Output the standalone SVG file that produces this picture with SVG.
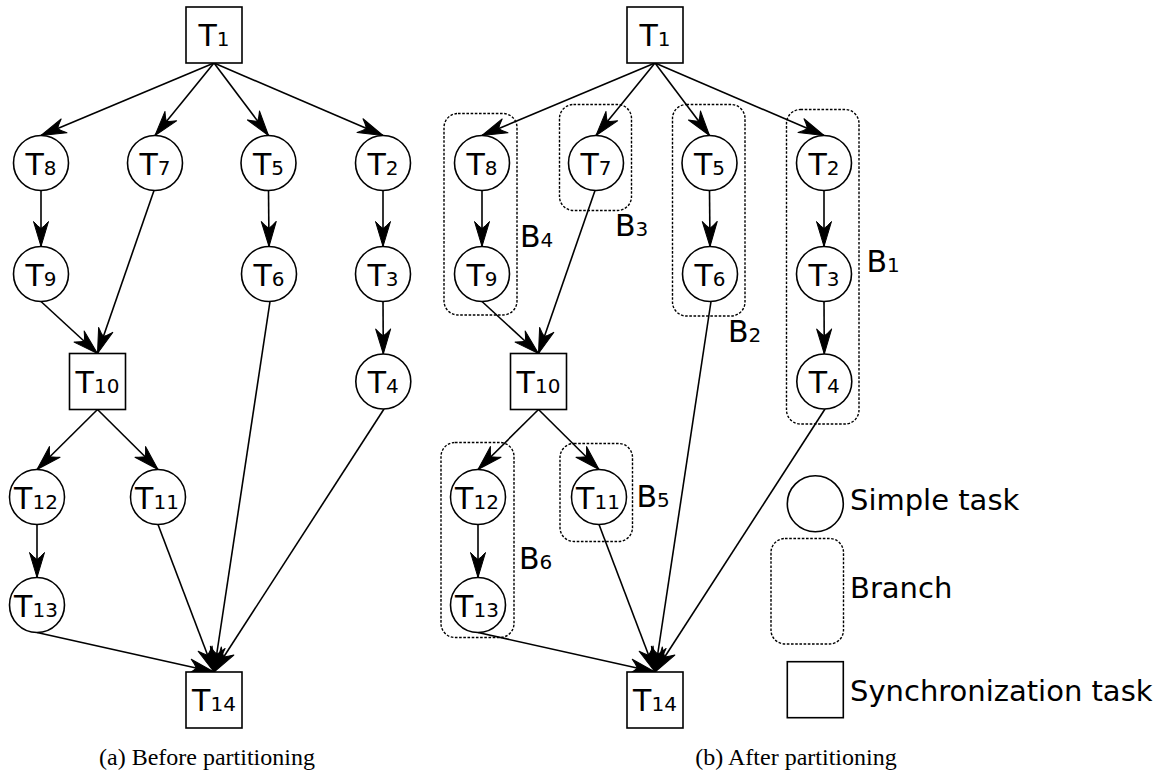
<svg xmlns="http://www.w3.org/2000/svg" width="1166" height="774" viewBox="0 0 1166 774">
<style>
  .sq { fill: #fff; stroke: #000; stroke-width: 1.6; }
  .ci { fill: #fff; stroke: #000; stroke-width: 1.6; }
  .br { fill: none; stroke: #000; stroke-width: 1.4; stroke-dasharray: 2.6 1.6; }
  .lbl { font-family: "DejaVu Sans", "Liberation Sans", sans-serif; font-size: 30px; fill: #000; text-anchor: middle; }
  .blbl { font-family: "DejaVu Sans", "Liberation Sans", sans-serif; font-size: 30px; fill: #000; }
  .sub { font-size: 20px; }
  .leg { font-family: "DejaVu Sans", "Liberation Sans", sans-serif; font-size: 29px; fill: #000; }
  .cap { font-family: "Liberation Serif", "Times New Roman", serif; font-size: 24px; fill: #000; text-anchor: middle; }
  .edge { fill: none; stroke: #000; stroke-width: 1.6; marker-end: url(#arr); }
</style>
<defs>
  <marker id="arr" markerUnits="userSpaceOnUse" viewBox="0 0 26 18" markerWidth="26" markerHeight="18" refX="26" refY="9" orient="auto">
    <path d="M26,9 L1,1.5 Q6,6 8,9 Q6,12 1,16.5 Z" fill="#000" stroke="#000" stroke-width="1" stroke-linejoin="round"/>
  </marker>
</defs>
<rect width="1166" height="774" fill="#fff"/>

<!-- Panel (a) connectors -->
<g id="connectors-a">
  <path class="edge" d="M214,63 L41,135.5"/>
  <path class="edge" d="M214,63 L155,135.5"/>
  <path class="edge" d="M214,63 L268.5,135.5"/>
  <path class="edge" d="M214,63 L383,135.5"/>
  <path class="edge" d="M41,190.5 L41,246.5"/>
  <path class="edge" d="M268.5,190.5 L269,246.5"/>
  <path class="edge" d="M383,190.5 L383,246.5"/>
  <path class="edge" d="M41,301.5 L97.5,353.5"/>
  <path class="edge" d="M154,190.5 L97.5,353.5"/>
  <path class="edge" d="M383,301.5 L383.3,354"/>
  <path class="edge" d="M97.5,409.5 L37,469.5"/>
  <path class="edge" d="M97.5,409.5 L158,469.5"/>
  <path class="edge" d="M37,524.5 L37,577.5"/>
  <path class="edge" d="M37,632.5 L214,672"/>
  <path class="edge" d="M158,524.5 L214,672"/>
  <path class="edge" d="M270,301.5 L214,672"/>
  <path class="edge" d="M384,409 L214,672"/>
</g>

<!-- Panel (a) nodes -->
<g id="a-T1"><rect class="sq" x="186" y="7" width="56" height="56"/><text class="lbl" x="214" y="46">T<tspan class="sub">1</tspan></text></g>
<g id="a-T8"><circle class="ci" cx="41" cy="163" r="27.5"/><text class="lbl" x="41" y="174.5">T<tspan class="sub">8</tspan></text></g>
<g id="a-T7"><circle class="ci" cx="155" cy="163" r="27.5"/><text class="lbl" x="155" y="174.5">T<tspan class="sub">7</tspan></text></g>
<g id="a-T5"><circle class="ci" cx="268.5" cy="163" r="27.5"/><text class="lbl" x="268.5" y="174.5">T<tspan class="sub">5</tspan></text></g>
<g id="a-T2"><circle class="ci" cx="383" cy="163" r="27.5"/><text class="lbl" x="383" y="174.5">T<tspan class="sub">2</tspan></text></g>
<g id="a-T9"><circle class="ci" cx="41" cy="274" r="27.5"/><text class="lbl" x="41" y="285.5">T<tspan class="sub">9</tspan></text></g>
<g id="a-T6"><circle class="ci" cx="269" cy="274" r="27.5"/><text class="lbl" x="269" y="285.5">T<tspan class="sub">6</tspan></text></g>
<g id="a-T3"><circle class="ci" cx="383" cy="274" r="27.5"/><text class="lbl" x="383" y="285.5">T<tspan class="sub">3</tspan></text></g>
<g id="a-T10"><rect class="sq" x="69.5" y="353.5" width="56" height="56"/><text class="lbl" x="97.5" y="393">T<tspan class="sub">10</tspan></text></g>
<g id="a-T4"><circle class="ci" cx="383.3" cy="381.5" r="27.5"/><text class="lbl" x="383.3" y="393">T<tspan class="sub">4</tspan></text></g>
<g id="a-T12"><circle class="ci" cx="37" cy="497" r="27.5"/><text class="lbl" x="36" y="508.5">T<tspan class="sub">12</tspan></text></g>
<g id="a-T11"><circle class="ci" cx="158" cy="497" r="27.5"/><text class="lbl" x="157" y="508.5">T<tspan class="sub">11</tspan></text></g>
<g id="a-T13"><circle class="ci" cx="37" cy="605" r="27.5"/><text class="lbl" x="36" y="616.5">T<tspan class="sub">13</tspan></text></g>
<g id="a-T14"><rect class="sq" x="186" y="672" width="56" height="56"/><text class="lbl" x="214" y="711">T<tspan class="sub">14</tspan></text></g>

<!-- Panel (b) branches -->
<g id="branch-B4"><rect class="br" x="444" y="113.5" width="73" height="201.5" rx="14"/><text class="blbl" x="520" y="246.5">B<tspan class="sub">4</tspan></text></g>
<g id="branch-B3"><rect class="br" x="559.5" y="104.5" width="72" height="106" rx="14"/><text class="blbl" x="615" y="236">B<tspan class="sub">3</tspan></text></g>
<g id="branch-B2"><rect class="br" x="672.5" y="104.5" width="72.5" height="211.5" rx="14"/><text class="blbl" x="728" y="341.5">B<tspan class="sub">2</tspan></text></g>
<g id="branch-B1"><rect class="br" x="786.5" y="109.5" width="72.5" height="314.5" rx="14"/><text class="blbl" x="866.5" y="271.5">B<tspan class="sub">1</tspan></text></g>
<g id="branch-B6"><rect class="br" x="441" y="442.5" width="73" height="195" rx="14"/><text class="blbl" x="519" y="569">B<tspan class="sub">6</tspan></text></g>
<g id="branch-B5"><rect class="br" x="560" y="443.5" width="72.5" height="98" rx="14"/><text class="blbl" x="636.5" y="506.5">B<tspan class="sub">5</tspan></text></g>

<!-- Panel (b) connectors -->
<g id="connectors-b" transform="translate(441,0)">
  <path class="edge" d="M214,63 L41,135.5"/>
  <path class="edge" d="M214,63 L155,135.5"/>
  <path class="edge" d="M214,63 L268.5,135.5"/>
  <path class="edge" d="M214,63 L383,135.5"/>
  <path class="edge" d="M41,190.5 L41,246.5"/>
  <path class="edge" d="M268.5,190.5 L269,246.5"/>
  <path class="edge" d="M383,190.5 L383,246.5"/>
  <path class="edge" d="M41,301.5 L97.5,353.5"/>
  <path class="edge" d="M154,190.5 L97.5,353.5"/>
  <path class="edge" d="M383,301.5 L383.3,354"/>
  <path class="edge" d="M97.5,409.5 L37,469.5"/>
  <path class="edge" d="M97.5,409.5 L158,469.5"/>
  <path class="edge" d="M37,524.5 L37,577.5"/>
  <path class="edge" d="M37,632.5 L214,672"/>
  <path class="edge" d="M158,524.5 L214,672"/>
  <path class="edge" d="M270,301.5 L214,672"/>
  <path class="edge" d="M384,409 L214,672"/>
</g>

<!-- Panel (b) nodes -->
<g transform="translate(441,0)">
<g id="b-T1"><rect class="sq" x="186" y="7" width="56" height="56"/><text class="lbl" x="214" y="46">T<tspan class="sub">1</tspan></text></g>
<g id="b-T8"><circle class="ci" cx="41" cy="163" r="27.5"/><text class="lbl" x="41" y="174.5">T<tspan class="sub">8</tspan></text></g>
<g id="b-T7"><circle class="ci" cx="155" cy="163" r="27.5"/><text class="lbl" x="155" y="174.5">T<tspan class="sub">7</tspan></text></g>
<g id="b-T5"><circle class="ci" cx="268.5" cy="163" r="27.5"/><text class="lbl" x="268.5" y="174.5">T<tspan class="sub">5</tspan></text></g>
<g id="b-T2"><circle class="ci" cx="383" cy="163" r="27.5"/><text class="lbl" x="383" y="174.5">T<tspan class="sub">2</tspan></text></g>
<g id="b-T9"><circle class="ci" cx="41" cy="274" r="27.5"/><text class="lbl" x="41" y="285.5">T<tspan class="sub">9</tspan></text></g>
<g id="b-T6"><circle class="ci" cx="269" cy="274" r="27.5"/><text class="lbl" x="269" y="285.5">T<tspan class="sub">6</tspan></text></g>
<g id="b-T3"><circle class="ci" cx="383" cy="274" r="27.5"/><text class="lbl" x="383" y="285.5">T<tspan class="sub">3</tspan></text></g>
<g id="b-T10"><rect class="sq" x="69.5" y="353.5" width="56" height="56"/><text class="lbl" x="97.5" y="393">T<tspan class="sub">10</tspan></text></g>
<g id="b-T4"><circle class="ci" cx="383.3" cy="381.5" r="27.5"/><text class="lbl" x="383.3" y="393">T<tspan class="sub">4</tspan></text></g>
<g id="b-T12"><circle class="ci" cx="37" cy="497" r="27.5"/><text class="lbl" x="36" y="508.5">T<tspan class="sub">12</tspan></text></g>
<g id="b-T11"><circle class="ci" cx="158" cy="497" r="27.5"/><text class="lbl" x="157" y="508.5">T<tspan class="sub">11</tspan></text></g>
<g id="b-T13"><circle class="ci" cx="37" cy="605" r="27.5"/><text class="lbl" x="36" y="616.5">T<tspan class="sub">13</tspan></text></g>
<g id="b-T14"><rect class="sq" x="186" y="672" width="56" height="56"/><text class="lbl" x="214" y="711">T<tspan class="sub">14</tspan></text></g>
</g>

<!-- Legend -->
<g id="legend-simple"><circle class="ci" cx="815.3" cy="503.7" r="28"/><text class="leg" x="850" y="510">Simple task</text></g>
<g id="legend-branch"><rect class="br" x="771" y="538.5" width="72.5" height="105.5" rx="14"/><text class="leg" x="850" y="598">Branch</text></g>
<g id="legend-sync"><rect class="sq" x="787.3" y="661.7" width="56" height="56"/><text class="leg" x="850" y="700.5">Synchronization task</text></g>

<!-- Captions -->
<text class="cap" x="207" y="765">(a) Before partitioning</text>
<text class="cap" x="796" y="765">(b) After partitioning</text>
</svg>
